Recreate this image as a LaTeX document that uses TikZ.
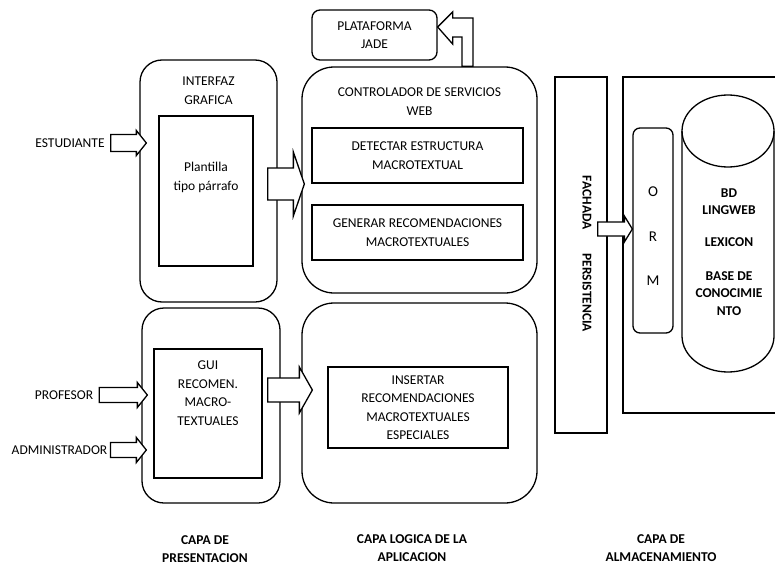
\documentclass[tikz,border=0pt]{standalone}
\usepackage{fontspec}
\setmainfont{Carlito}
\usetikzlibrary{shapes,positioning,calc}
\newcommand{\fs}{\fontsize{13.5}{18.5}\selectfont}
\newcommand{\bloque}[5]{%
    \draw[flecha] let \p1=(#1), \p2=(#2) in
        (\x1,\y1+#3) -- (\x2-#5,\y1+#3) -- (\x2-#5,\y1+#4) -- (\x2,\y1)
        -- (\x2-#5,\y1-#4) -- (\x2-#5,\y1-#3) -- (\x1,\y1-#3) -- cycle;
}
\tikzset{
    capa/.style={
        rectangle,
        draw=black,
        line width=1.3pt,
        inner sep=0pt,
        rounded corners=22pt,
    },
    caja/.style={
        rectangle,
        draw=black,
        line width=1.3pt,
        inner sep=0pt,
        align=center,
        font=\fs,
    },
    txt/.style={
        align=center,
        inner sep=0pt,
        font=\fs,
    },
    titulo/.style={
        align=center,
        inner sep=0pt,
        font=\fs\bfseries,
    },
    flecha/.style={
        draw=black,
        fill=white,
        line width=1.3pt,
        line join=miter,
    },
    linea/.style={
        draw=black,
        line width=1.3pt,
    },
}
\begin{document}
\begin{tikzpicture}[x=1pt,y=-1pt]
                \useasboundingbox (0,0) rectangle (775,567);

                \node [capa, minimum width=137pt, minimum height=242pt] (INTERFAZ) at (208.5,181) {};
                \node [txt, below=17.5pt of INTERFAZ.north] (INTERFAZt) {INTERFAZ\\GRAFICA};
                \node [caja, minimum width=94pt, minimum height=150pt] (PLANTILLA) at (206,191) {};
                \node [txt, below=47pt of PLANTILLA.north] (PLANTILLAt) {Plantilla\\tipo párrafo};

                \node [capa, minimum width=138pt, minimum height=195pt] (GUI) at (211,405.5) {};
                \node [caja, minimum width=108pt, minimum height=129pt] (GUIRECT) at (208,413.5) {};
                \node [txt, below=12.5pt of GUIRECT.north] (GUIt) {GUI\\RECOMEN.\\MACRO-\\TEXTUALES};

                \node [capa, rounded corners=8pt, align=center, font=\fs, minimum width=125pt, minimum height=50pt] (PLATAFORMA) at (374.5,35) {PLATAFORMA\\JADE};

                \node [capa, rounded corners=32pt, minimum width=235pt, minimum height=226pt] (CONTROLADOR) at (419.5,180) {};
                \node [txt, below=21.5pt of CONTROLADOR.north] (CONTROLADORt) {CONTROLADOR DE SERVICIOS\\WEB};
                \node [caja, minimum width=211pt, minimum height=55pt] (DETECTAR) at (417.5,155.5) {DETECTAR ESTRUCTURA\\MACROTEXTUAL};
                \node [caja, minimum width=211pt, minimum height=55pt] (GENERAR) at (417.5,232.5) {GENERAR RECOMENDACIONES\\MACROTEXTUALES};

                \node [capa, rounded corners=32pt, minimum width=235pt, minimum height=200pt] (LOGICA) at (419.5,403) {};
                \node [caja, minimum width=180pt, minimum height=81pt] (INSERTAR) at (418,407.5) {INSERTAR\\RECOMENDACIONES\\MACROTEXTUALES\\ESPECIALES};

                \node [caja, minimum width=52pt, minimum height=356pt] (FACHADA) at (581,255) {};
                \node [titulo, rotate=-90] (FACHADAt) at (587,254) {FACHADA\hspace{24pt}PERSISTENCIA};

                \node [caja, minimum width=177pt, minimum height=336pt] (ALMACEN) at (711.5,245) {};
                \node [capa, rounded corners=7pt, minimum width=40pt, minimum height=205pt] (ORM) at (653,230.5) {};
                \node [txt, font=\fontsize{15}{44.5}\selectfont] (ORMt) at ($(ORM)+(0,6)$) {O\\R\\M};

                \draw [linea] (682,131) -- (682,336)
                    arc [start angle=180, end angle=360, x radius=46pt, y radius=36pt] -- (774,131);
                \draw [linea] (728,131) ellipse [x radius=46pt, y radius=36pt];
                \node [titulo, font=\fontsize{13.5}{17.5}\selectfont\bfseries] (BD) at (729,252)
                      {BD\\LINGWEB\\[14.5pt]LEXICON\\[16pt]BASE DE\\CONOCIMIE\\NTO};

                \node [txt] (ESTUDIANTE) at (70,143) {ESTUDIANTE};
                \node [txt] (PROFESOR) at (64,395) {PROFESOR};
                \node [txt] (ADMINISTRADOR) at (59.5,450) {ADMINISTRADOR};

                \node [titulo] (PRESENTACION) at (205,549) {CAPA DE\\PRESENTACION};
                \node [titulo] (APLICACION) at (412,548) {CAPA LOGICA DE LA\\APLICACION};
                \node [titulo] (ALMACENAMIENTO) at (661,548) {CAPA DE\\ALMACENAMIENTO};

                \bloque{$(ESTUDIANTE.east)+(6,0)$}{$(INTERFAZ.west)+(7,0)$}{8.5}{12.5}{10}
                \bloque{$(PROFESOR.east)+(6,0)$}{$(GUI.west)+(6,0)$}{7.5}{12.5}{10}
                \bloque{$(ADMINISTRADOR.east)+(3,0)$}{$(GUI.west)+(5,0)$}{7.5}{12.5}{10}
                \bloque{$(INTERFAZ.east)+(-10,3)$}{$(CONTROLADOR.west)+(3,0)$}{16}{32}{11}
                \bloque{$(GUI.east)+(-13,-15.5)$}{$(LOGICA.west)+(11,0)$}{12}{23}{13}
                \bloque{$(FACHADA.east)+(-10,-26)$}{ORM.west}{7}{13}{8}

                \draw [flecha] let \p1=(CONTROLADOR.north), \p2=(PLATAFORMA.east) in
                    (\x1+42.5,\y1) -- (\x1+42.5,\y2-2) -- (\x2+15,\y2-2) -- (\x2+15,\y2-9)
                    -- (\x2,\y2+8) -- (\x2+15,\y2+23) -- (\x2+15,\y2+17) -- (\x1+53.5,\y2+17)
                    -- (\x1+53.5,\y1) -- cycle;
\end{tikzpicture}
\end{document}
